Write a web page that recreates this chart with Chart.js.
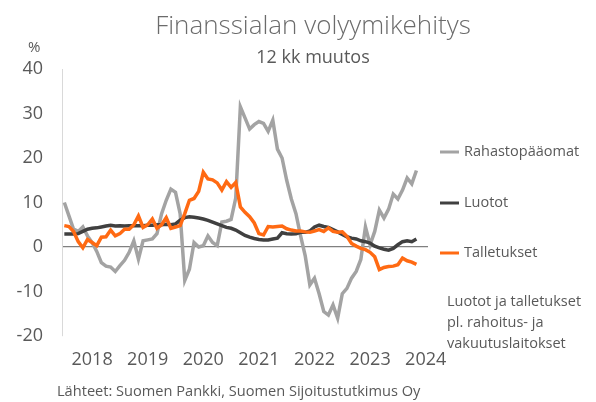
<!DOCTYPE html>
<html>
<head>
<meta charset="utf-8">
<title>Finanssialan volyymikehitys</title>
<script src="https://cdn.jsdelivr.net/npm/chart.js@4.4.1/dist/chart.umd.min.js"></script>
<style>
  html, body { margin: 0; padding: 0; background: #fff; }
  #wrap { position: relative; width: 596px; height: 402px; }
</style>
</head>
<body>
<div id="wrap"><canvas id="chart" width="596" height="402"></canvas></div>
<script>
// vuodet x-akselilla, kuukausittainen data tammikuusta 2018
const years = ['2018', '2019', '2020', '2021', '2022', '2023', '2024'];
const monthsOnAxis = 79; // 2018-01 ... 2024-07

const rahastopaaomat = [
  10, 7, 4, 3.5, 4.5, 2.5, 1, -1, -3.5, -4.3, -4.5, -5.5,
  -4.2, -3, -1.2, 1.4, -2.7, 1.4, 1.6, 1.8, 3, 7.5, 10.5, 13,
  12.3, 7.5, -7.5, -5, 1, 0, 0.3, 2.5, 1, 0.3, 5.6, 5.8,
  6.2, 11, 31.5, 29, 26.5, 27.5, 28.2, 27.8, 26, 28.5, 22, 20,
  15, 10.8, 7.5, 2.5, -2, -8.5, -7, -10.5, -14.5, -15.3, -13, -16,
  -10.5, -9.3, -7, -5.5, -2.8, 4.5, 0.5, 3.5, 8.3, 6.5, 8.5, 11.9,
  10.8, 12.8, 15.5, 14.2, 17.2
];

const luotot = [
  2.9, 2.9, 2.9, 3.0, 3.5, 4.0, 4.2, 4.3, 4.5, 4.7, 4.9, 4.7,
  4.8, 4.7, 4.8, 4.8, 4.8, 4.8, 4.9, 4.9, 5.0, 5.0, 5.1, 5.0,
  5.2, 6.0, 6.6, 6.8, 6.7, 6.5, 6.3, 6.0, 5.6, 5.2, 4.8, 4.4,
  4.2, 3.8, 3.2, 2.6, 2.2, 1.9, 1.7, 1.6, 1.6, 1.8, 2.0, 3.2,
  3.0, 2.9, 3.0, 3.3, 3.3, 3.6, 4.5, 4.9, 4.6, 4.4, 3.9, 3.4,
  2.8, 2.3, 2.0, 1.8, 1.4, 1.2, 0.9, 0.2, -0.2, -0.5, -0.7, -0.3,
  0.5, 1.2, 1.4, 1.2, 1.8
];

const talletukset = [
  4.8, 4.6, 3.5, 1.2, -0.2, 1.7, 1.0, 0.3, 2.2, 2.3, 3.8, 2.5,
  3.0, 4.0, 4.0, 5.0, 7.0, 4.4, 5.0, 6.3, 4.2, 5.0, 6.6, 4.2,
  4.5, 4.8, 7.5, 10.5, 10.9, 12.5, 16.8, 15.3, 15.1, 14.4, 12.8, 14.7,
  13.4, 14.5, 9.0, 7.8, 6.8, 5.4, 3.0, 2.7, 4.6, 4.5, 4.6, 4.7,
  4.1, 3.8, 3.6, 3.6, 3.4, 3.3, 3.6, 3.9, 3.5, 4.3, 3.5, 3.3,
  3.4, 2.4, 0.8, 0.2, -0.3, -0.6, -1.2, -2.2, -5.1, -4.6, -4.4, -4.3,
  -4.0, -2.5, -3.1, -3.4, -3.9
];

const yTicks = [-20, -10, 0, 10, 20, 30, 40];

const textColor = '#595959';
const fontFamily = '"Open Sans", "DejaVu Sans", sans-serif';

const labels = [];
for (let i = 0; i < monthsOnAxis; i++) {
  const y = years[0] * 1 + Math.floor(i / 12);
  const m = (i % 12) + 1;
  labels.push(y + '-' + (m < 10 ? '0' + m : m));
}

// otsikot, selite ja huomautukset piirretään itse
const textPlugin = {
  id: 'texts',
  afterDraw(chart) {
    const ctx = chart.ctx;
    ctx.save();
    ctx.fillStyle = '#6b6b6b';
    ctx.textBaseline = 'alphabetic';
    ctx.textAlign = 'center';
    ctx.font = '300 26px ' + fontFamily;
    ctx.fillText('Finanssialan volyymikehitys', 313, 34);
    ctx.fillStyle = textColor;
    ctx.font = '18px ' + fontFamily;
    ctx.fillText('12 kk muutos', 313, 63);

    ctx.textAlign = 'left';
    ctx.font = '15px ' + fontFamily;
    ctx.fillText('%', 28, 52);

    // selite
    const legendY = [152, 203, 253];
    ctx.textBaseline = 'middle';
    chart.data.datasets.forEach((ds, i) => {
      ctx.strokeStyle = ds.borderColor;
      ctx.lineWidth = 3;
      ctx.beginPath();
      ctx.moveTo(440, legendY[i]);
      ctx.lineTo(459, legendY[i]);
      ctx.stroke();
      ctx.fillStyle = textColor;
      ctx.font = '14.5px ' + fontFamily;
      ctx.fillText(ds.label, 464, legendY[i]);
    });

    ctx.font = '14.5px ' + fontFamily;
    ctx.fillText('Luotot ja talletukset', 447, 302);
    ctx.fillText('pl. rahoitus- ja', 447, 323);
    ctx.fillText('vakuutuslaitokset', 447, 344);

    ctx.font = '14.6px ' + fontFamily;
    ctx.fillText('Lähteet: Suomen Pankki, Suomen Sijoitustutkimus Oy', 57, 392);
    ctx.restore();
  }
};

new Chart(document.getElementById('chart'), {
  type: 'line',
  data: {
    labels: labels,
    datasets: [{
      label: 'Rahastopääomat',
      data: rahastopaaomat,
      borderColor: '#a3a3a3',
      borderWidth: 3.5,
      pointRadius: 0,
      order: 3
    }, {
      label: 'Luotot',
      data: luotot,
      borderColor: '#404040',
      borderWidth: 3.5,
      pointRadius: 0,
      order: 2
    }, {
      label: 'Talletukset',
      data: talletukset,
      borderColor: '#ff6a13',
      borderWidth: 3.5,
      pointRadius: 0,
      order: 1
    }]
  },
  options: {
    responsive: false,
    animation: false,
    events: [],
    layout: {
      padding: {top: 69, right: 168, bottom: 20, left: 0}
    },
    plugins: {
      legend: {display: false},
      tooltip: {enabled: false}
    },
    scales: {
      x: {
        offset: true,
        afterFit: (s) => { s.height = 46; },
        grid: {display: false, drawTicks: false},
        border: {display: false},
        ticks: {
          autoSkip: false,
          maxRotation: 0,
          padding: 13,
          color: textColor,
          font: {family: fontFamily, size: 18},
          callback: (v, i) => (i % 12 === 6 ? years[Math.floor(i / 12)] : '')
        }
      },
      y: {
        min: yTicks[0],
        max: yTicks[yTicks.length - 1],
        afterFit: (s) => { s.width = 62; },
        afterBuildTicks: (s) => { s.ticks = yTicks.map(v => ({value: v})); },
        border: {display: true, color: '#d9d9d9', width: 1},
        grid: {
          drawTicks: false,
          color: (c) => (c.tick && c.tick.value === 0 ? '#808080' : 'rgba(0,0,0,0)'),
          lineWidth: 1.2
        },
        ticks: {
          padding: 19,
          color: textColor,
          font: {family: fontFamily, size: 18}
        }
      }
    }
  },
  plugins: [textPlugin]
});
</script>
</body>
</html>
